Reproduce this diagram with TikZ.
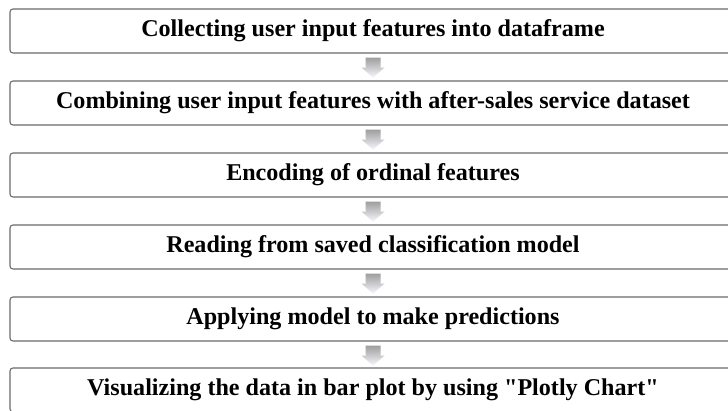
\documentclass[tikz,border=0pt]{standalone}
\usepackage{fontspec}
\setmainfont{Liberation Serif}[Ligatures=TeXOff]
\usetikzlibrary{calc}
\begin{document}
\begin{tikzpicture}[x=1pt,y=-1pt,
  stepbox/.style={draw=black!58, line width=1.1pt, rounded corners=3pt, fill=white,
    minimum width=726pt, minimum height=44pt, inner sep=0pt,
    font=\fontsize{24.1}{28}\selectfont\bfseries, text=black},
  flowarrow/.style={top color=black!38, bottom color=black!6!blue!3!white, draw=none}]
\clip (0,0) rectangle (728,410);
\fill[white] (0,0) rectangle (728,410);
\node[stepbox] (b1) at (373,31) {Collecting user input features into dataframe};
\node[stepbox] (b2) at (373,103) {Combining user input features with after-sales service dataset};
\node[stepbox] (b3) at (373,175) {Encoding of ordinal features};
\node[stepbox] (b4) at (373,247) {Reading from saved classification model};
\node[stepbox] (b5) at (373,319) {Applying model to make predictions};
\node[stepbox] (b6) at (373,390) {Visualizing the data in bar plot by using "Plotly Chart"};
\foreach \a/\b in {b1/b2,b2/b3,b3/b4,b4/b5,b5/b6}{
  \path[flowarrow] ($(\a.south)+(-7.5,4)$) -- ($(\a.south)+(7.5,4)$) -- ($(\a.south)+(7.5,14)$)
    -- ($(\a.south)+(11.5,14)$) -- ($(\a.south)+(0,24)$) -- ($(\a.south)+(-11.5,14)$)
    -- ($(\a.south)+(-7.5,14)$) -- cycle;
}
\end{tikzpicture}
\end{document}
